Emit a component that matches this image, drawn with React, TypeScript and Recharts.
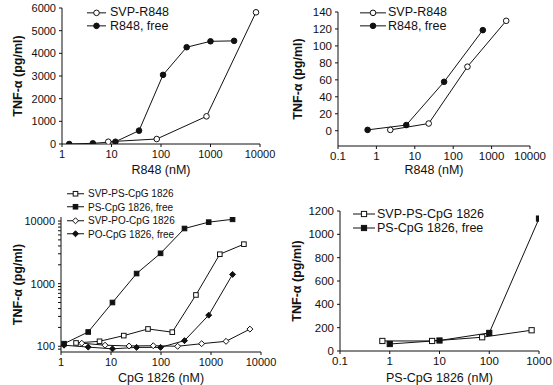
import React from 'react';
import { LineChart, Line, XAxis, YAxis, Legend, Label } from 'recharts';

const FONT = '"Liberation Sans", Arial, Helvetica, sans-serif';
const INK = '#111';

// top left: R848, linear TNF axis
const r848SvpDoseA = [8.6, 82, 830, 8300];
const r848SvpTnfA = [100, 220, 1220, 5810];
const r848FreeDoseA = [1.4, 4.2, 12, 36, 110, 330, 1000, 3000];
const r848FreeTnfA = [0, 30, 100, 590, 3050, 4270, 4530, 4550];
const doseTicksA = [1, 10, 100, 1000, 10000];
const tnfTicksA = [0, 1000, 2000, 3000, 4000, 5000, 6000];

// top right: R848, low range
const r848SvpDoseB = [2.3, 23, 235, 2400];
const r848SvpTnfB = [1, 8.5, 75.5, 129.6];
const r848FreeDoseB = [0.59, 6, 58, 590];
const r848FreeTnfB = [1, 6.7, 57.7, 118.6];
const doseTicksB = [0.1, 1, 10, 100, 1000, 10000];
const tnfTicksB = [0, 20, 40, 60, 80, 100, 120, 140];

// bottom left: CpG 1826, log TNF axis
const svpPsDose = [2.0, 5.9, 18, 55, 168, 500, 1500, 4550];
const svpPsTnf = [113, 120, 148, 189, 168, 660, 2950, 4270];
const psFreeDose = [1.15, 3.5, 10.7, 32.5, 98, 295, 900, 2700];
const psFreeTnf = [110, 169, 500, 1450, 3050, 7600, 9600, 10650];
const svpPoDose = [2.6, 7.6, 23, 70, 215, 650, 2000, 6000];
const svpPoTnf = [112, 104, 101, 102, 100, 110, 120, 188];
const poFreeDose = [1.15, 3.5, 10.7, 32.5, 98, 295, 900, 2700];
const poFreeTnf = [104, 97, 91, 96, 96, 123, 314, 1405];
const doseTicksC = [1, 10, 100, 1000, 10000];
const tnfTicksC = [90, 100, 200, 300, 400, 500, 600, 700, 800, 900, 1000, 2000, 3000, 4000, 5000, 6000, 7000, 8000, 9000, 10000];
const tnfLabelsC = [100, 1000, 10000];

// bottom right: PS-CpG 1826
const svpPsDoseD = [0.71, 7.1, 72, 710];
const svpPsTnfD = [86, 86, 118, 178];
const psFreeDoseD = [1, 10, 100, 1000];
const psFreeTnfD = [60, 90, 155, 1135];
const doseTicksD = [0.1, 1, 10, 100, 1000];
const tnfTicksD = [0, 200, 400, 600, 800, 1000, 1200];

const zip = (xs: number[], ys: number[]) => xs.map((x, i) => ({ x, y: ys[i] }));

type Shape = 'circle' | 'square' | 'diamond';
interface SeriesDef {
  name: string;
  shape: Shape;
  filled: boolean;
  data: { x: number; y: number }[];
}

const Marker = ({ cx, cy, shape, filled, size }: { cx: number; cy: number; shape: Shape; filled: boolean; size: number }) => {
  const fill = filled ? INK : '#fff';
  const h = size / 2;
  if (shape === 'square') {
    return <rect x={cx - h} y={cy - h} width={size} height={size} fill={fill} stroke={INK} strokeWidth={1} />;
  }
  if (shape === 'diamond') {
    const d = h * 1.3;
    return <polygon points={`${cx},${cy - d} ${cx + d},${cy} ${cx},${cy + d} ${cx - d},${cy}`} fill={fill} stroke={INK} strokeWidth={1} />;
  }
  return <circle cx={cx} cy={cy} r={h} fill={fill} stroke={INK} strokeWidth={1} />;
};

interface LegendOpts {
  left: number;
  top: number;
  fontSize: number;
  rowHeight: number;
  lineLength: number;
  gap: number;
}

const LegendBox = ({ items, opts, size }: { items: SeriesDef[]; opts: LegendOpts; size: number }) => (
  <div style={{ fontFamily: FONT, fontSize: opts.fontSize, color: INK }}>
    {items.map(s => (
      <div key={s.name} style={{ display: 'flex', alignItems: 'center', height: opts.rowHeight, whiteSpace: 'nowrap' }}>
        <svg width={opts.lineLength} height={opts.rowHeight} style={{ marginRight: opts.gap, flex: 'none' }}>
          <line x1={0} x2={opts.lineLength} y1={opts.rowHeight / 2} y2={opts.rowHeight / 2} stroke={INK} strokeWidth={1} />
          <Marker cx={opts.lineLength / 2} cy={opts.rowHeight / 2} shape={s.shape} filled={s.filled} size={size} />
        </svg>
        <span>{s.name}</span>
      </div>
    ))}
  </div>
);

interface PanelProps {
  left: number;
  top: number;
  width: number;
  height: number;
  margin: { top: number; right: number; bottom: number; left: number };
  yWidth: number;
  xHeight: number;
  xDomain: [number, number];
  xTicks: number[];
  yDomain: [number, number];
  yTicks: number[];
  yLog?: boolean;
  yFormat?: (v: number) => string;
  xLabel: string;
  xLabelOffset: number;
  yLabelOffset: number;
  series: SeriesDef[];
  legend: LegendOpts;
  markerSize: number;
  tickFont: number;
}

const Panel = (p: PanelProps) => (
  <div style={{ position: 'absolute', left: p.left, top: p.top }}>
    <LineChart width={p.width} height={p.height} margin={p.margin}>
      <XAxis
        dataKey="x"
        type="number"
        scale="log"
        domain={p.xDomain}
        ticks={p.xTicks}
        allowDataOverflow
        interval={0}
        height={p.xHeight}
        stroke={INK}
        tickSize={3}
        tickMargin={3}
        tick={{ fontSize: p.tickFont, fill: INK }}
        tickFormatter={(v: number) => String(v)}
      >
        <Label
          value={p.xLabel}
          position="insideBottom"
          offset={p.xLabelOffset}
          style={{ fontSize: 12.5, fill: INK, fontFamily: FONT }}
        />
      </XAxis>
      <YAxis
        type="number"
        scale={p.yLog ? 'log' : 'linear'}
        domain={p.yDomain}
        ticks={p.yTicks}
        allowDataOverflow
        interval={0}
        width={p.yWidth}
        stroke={INK}
        tickSize={3}
        tickMargin={3}
        tick={{ fontSize: p.tickFont, fill: INK }}
        tickFormatter={p.yFormat ?? ((v: number) => String(v))}
      >
        <Label
          value="TNF-α (pg/ml)"
          angle={-90}
          position="insideLeft"
          offset={p.yLabelOffset}
          style={{ textAnchor: 'middle', fontSize: 12.5, fontWeight: 'bold', fill: INK, fontFamily: FONT }}
        />
      </YAxis>
      <Legend
        layout="vertical"
        align="center"
        verticalAlign="middle"
        wrapperStyle={{ left: p.legend.left, top: p.legend.top, width: 'auto' }}
        content={() => <LegendBox items={p.series} opts={p.legend} size={p.markerSize} />}
      />
      {p.series.map(s => (
        <Line
          key={s.name}
          name={s.name}
          data={s.data}
          dataKey="y"
          type="linear"
          stroke={INK}
          strokeWidth={1}
          isAnimationActive={false}
          activeDot={false}
          dot={(d: any) => (
            <Marker key={`${s.name}-${d.index}`} cx={d.cx} cy={d.cy} shape={s.shape} filled={s.filled} size={p.markerSize} />
          )}
        />
      ))}
    </LineChart>
  </div>
);

const seriesA: SeriesDef[] = [
  { name: 'SVP-R848', shape: 'circle', filled: false, data: zip(r848SvpDoseA, r848SvpTnfA) },
  { name: 'R848, free', shape: 'circle', filled: true, data: zip(r848FreeDoseA, r848FreeTnfA) },
];
const seriesB: SeriesDef[] = [
  { name: 'SVP-R848', shape: 'circle', filled: false, data: zip(r848SvpDoseB, r848SvpTnfB) },
  { name: 'R848, free', shape: 'circle', filled: true, data: zip(r848FreeDoseB, r848FreeTnfB) },
];
const seriesC: SeriesDef[] = [
  { name: 'SVP-PS-CpG 1826', shape: 'square', filled: false, data: zip(svpPsDose, svpPsTnf) },
  { name: 'PS-CpG 1826, free', shape: 'square', filled: true, data: zip(psFreeDose, psFreeTnf) },
  { name: 'SVP-PO-CpG 1826', shape: 'diamond', filled: false, data: zip(svpPoDose, svpPoTnf) },
  { name: 'PO-CpG 1826, free', shape: 'diamond', filled: true, data: zip(poFreeDose, poFreeTnf) },
];
const seriesD: SeriesDef[] = [
  { name: 'SVP-PS-CpG 1826', shape: 'square', filled: false, data: zip(svpPsDoseD, svpPsTnfD) },
  { name: 'PS-CpG 1826, free', shape: 'square', filled: true, data: zip(psFreeDoseD, psFreeTnfD) },
];

export default function App() {
  return (
    <div style={{ position: 'absolute', left: 0, top: 0, width: 553, height: 385, background: '#fff', fontFamily: FONT, overflow: 'hidden' }}>
      <Panel
        left={0} top={0} width={280} height={185}
        margin={{ top: 8, right: 20, bottom: 5, left: 5 }}
        yWidth={57} xHeight={36}
        xDomain={[1, 10000]} xTicks={doseTicksA}
        yDomain={[0, 6000]} yTicks={tnfTicksA}
        xLabel="R848 (nM)" xLabelOffset={6} yLabelOffset={13}
        series={seriesA}
        legend={{ left: 87, top: 5.5, fontSize: 12.5, rowHeight: 13.7, lineLength: 19, gap: 4 }}
        markerSize={5.6} tickFont={11}
      />
      <Panel
        left={280} top={0} width={273} height={185}
        margin={{ top: 12, right: 23, bottom: 5, left: 5 }}
        yWidth={53} xHeight={34}
        xDomain={[0.1, 10000]} xTicks={doseTicksB}
        yDomain={[-18, 140]} yTicks={tnfTicksB}
        xLabel="R848 (nM)" xLabelOffset={6} yLabelOffset={13}
        series={seriesB}
        legend={{ left: 80, top: 5.5, fontSize: 12.5, rowHeight: 13.7, lineLength: 26, gap: 2 }}
        markerSize={5.6} tickFont={11.5}
      />
      <Panel
        left={0} top={185} width={280} height={200}
        margin={{ top: 32, right: 19, bottom: 0, left: 5 }}
        yWidth={56} xHeight={33}
        xDomain={[1, 10000]} xTicks={doseTicksC}
        yDomain={[81, 11600]} yTicks={tnfTicksC} yLog
        yFormat={(v: number) => (tnfLabelsC.includes(v) ? String(v) : '')}
        xLabel="CpG 1826 (nM)" xLabelOffset={3} yLabelOffset={13}
        series={seriesC}
        legend={{ left: 67, top: 1.8, fontSize: 10, rowHeight: 13.5, lineLength: 17, gap: 4 }}
        markerSize={4.6} tickFont={11}
      />
      <Panel
        left={280} top={185} width={273} height={200}
        margin={{ top: 26, right: 14, bottom: 0, left: 5 }}
        yWidth={55} xHeight={34}
        xDomain={[0.1, 1000]} xTicks={doseTicksD}
        yDomain={[0, 1200]} yTicks={tnfTicksD}
        xLabel="PS-CpG 1826 (nM)" xLabelOffset={3} yLabelOffset={12}
        series={seriesD}
        legend={{ left: 73, top: 22.3, fontSize: 12.5, rowHeight: 14, lineLength: 22, gap: 2 }}
        markerSize={5.2} tickFont={11.5}
      />
    </div>
  );
}
